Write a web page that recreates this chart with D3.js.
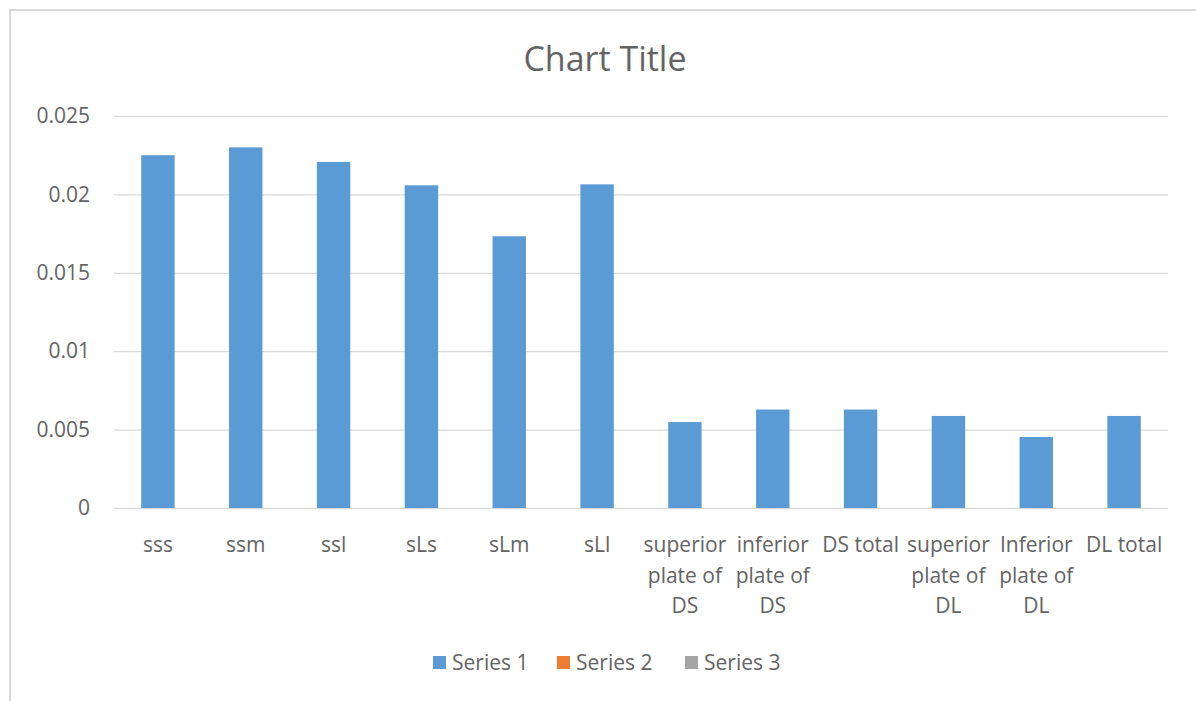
<!DOCTYPE html>
<html><head><meta charset="utf-8">
<script src="https://cdn.jsdelivr.net/npm/d3@7"></script>
<style>body{margin:0;background:#fff;}svg{display:block;}</style>
</head><body>
<svg id="chart" width="1196" height="701"></svg>
<script>
const categories = ["sss","ssm","ssl","sLs","sLm","sLl","superior plate of DS","inferior plate of DS","DS total","superior plate of DL","Inferior plate of DL","DL total"];
const series1 = [0.0225,0.0230,0.02207,0.02058,0.01733,0.02064,0.00548,0.00628,0.00628,0.00587,0.00453,0.00587];
const yTicks = [0,0.005,0.01,0.015,0.02,0.025];
const yTickLabels = ["0","0.005","0.01","0.015","0.02","0.025"];
const legendNames = ["Series 1","Series 2","Series 3"];
const legendColors = ["#5b9bd5","#ed7d31","#a5a5a5"];

const svg = d3.select("#chart");
const font = "'Open Sans', Lato, sans-serif";
const txt = "#636363";

svg.append("rect").attr("x",10).attr("y",10).attr("width",1200).attr("height",720)
  .attr("fill","#fff").attr("stroke","#d9d9d9").attr("stroke-width",2);

const pL = 114, pR = 1168, pT = 116, pB = 508;
const x = d3.scaleBand().domain(categories).range([pL,pR]).paddingInner(0.62).paddingOuter(0.31);
const y = d3.scaleLinear().domain([0,0.025]).range([pB,pT]);

svg.append("text").attr("x",605).attr("y",71).attr("text-anchor","middle")
  .attr("font-family",font).attr("font-size",34).attr("fill",txt).text("Chart Title");

const yAxis = d3.axisLeft(y).tickValues(yTicks).tickSize(-(pR-pL)).tickFormat((d,i)=>yTickLabels[i]);
const gy = svg.append("g").attr("transform",`translate(${pL},0)`).call(yAxis);
gy.select(".domain").remove();
gy.selectAll(".tick line").attr("stroke","#d9d9d9").attr("stroke-width",1.3);
gy.selectAll(".tick text").attr("x",-24).attr("font-family",font).attr("font-size",21).attr("fill",txt);

svg.append("g").selectAll("rect").data(series1).join("rect")
  .attr("x",(d,i)=>x(categories[i])).attr("width",x.bandwidth())
  .attr("y",d=>y(d)).attr("height",d=>y(0)-y(d)).attr("fill",legendColors[0]);

const xAxis = d3.axisBottom(x).tickSize(0).tickPadding(0);
const gx = svg.append("g").attr("transform",`translate(0,${pB})`).call(xAxis);
gx.select(".domain").remove();
const step = x.step();
gx.selectAll(".tick text").each(function(d){
  const t = d3.select(this);
  t.text(null).attr("font-family",font).attr("font-size",21).attr("fill",txt).attr("y",0).attr("dy",null);
  const words = d.split(" ");
  const lines = []; let cur = "";
  const meas = t.append("tspan");
  words.forEach(w=>{
    const trial = cur ? cur+" "+w : w;
    meas.text(trial);
    if (cur && meas.node().getComputedTextLength() > step+6) { lines.push(cur); cur = w; }
    else cur = trial;
  });
  lines.push(cur);
  meas.remove();
  lines.forEach((l,i)=>t.append("tspan").attr("x",0).attr("y",44+i*30.5).text(l));
});

const lg = svg.append("g");
const lx = [433,557,685];
legendNames.forEach((n,i)=>{
  lg.append("rect").attr("x",lx[i]).attr("y",656).attr("width",13).attr("height",13).attr("fill",legendColors[i]);
  lg.append("text").attr("x",lx[i]+19).attr("y",670).attr("font-family",font).attr("font-size",21).attr("fill",txt).text(n);
});
</script>
</body></html>
